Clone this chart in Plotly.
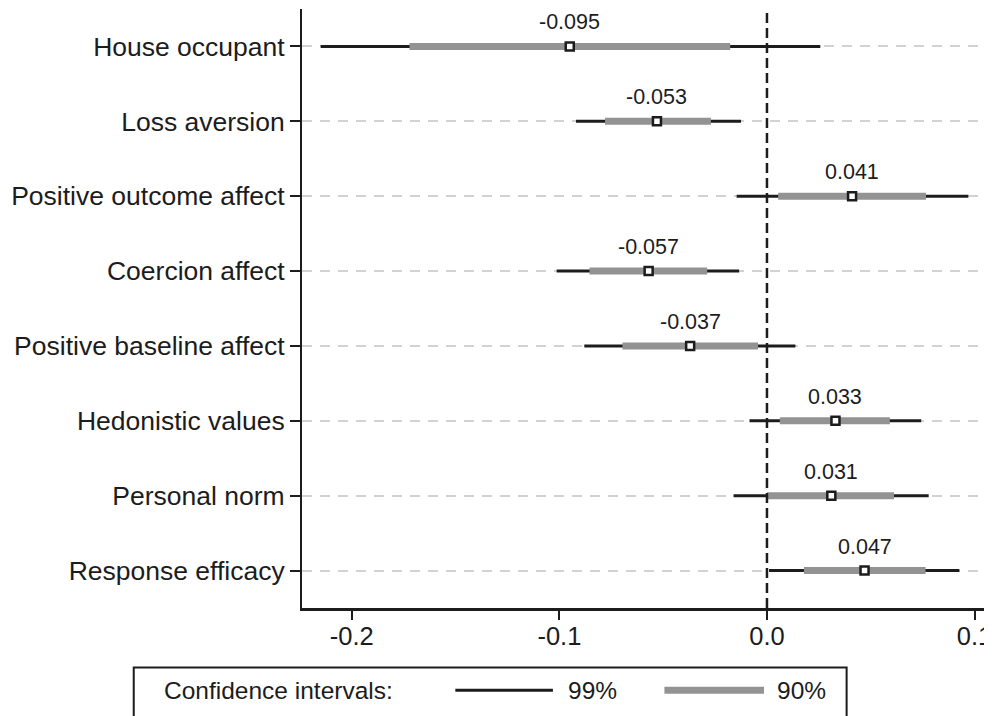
import plotly.graph_objects as go

# ---- data ----
categories = ["House occupant", "Loss aversion", "Positive outcome affect", "Coercion affect",
              "Positive baseline affect", "Hedonistic values", "Personal norm", "Response efficacy"]
estimate = [-0.095, -0.053, 0.041, -0.057, -0.037, 0.033, 0.031, 0.047]
ci99_low = [-0.215, -0.092, -0.0146, -0.1013, -0.088, -0.0084, -0.0161, 0.001]
ci99_high = [0.0257, -0.0125, 0.097, -0.0134, 0.0137, 0.0743, 0.0779, 0.0927]
ci90_low = [-0.1722, -0.078, 0.0054, -0.0855, -0.0696, 0.0062, 0.0, 0.0178]
ci90_high = [-0.0177, -0.027, 0.0766, -0.0288, -0.0043, 0.0592, 0.0612, 0.0764]
xtick_vals = [-0.2, -0.1, 0.0, 0.1]
xtick_text = ["-0.2", "-0.1", "0.0", "0.1"]
legend_title = "Confidence intervals:"
legend_labels = ["99%", "90%"]

FONT = "Liberation Sans, Arial, Helvetica, sans-serif"
BLACK = "#1c1c1c"
GRAY = "#939393"

OFF = 8  # page body margin
W, H = 992 - OFF, 716 - OFF
# plot area in page pixels
PL, PR, PT, PB = 302, 992, 8.5, 608.5
L, R, T, B = PL - OFF, PR - OFF, PT - OFF, PB - OFF


def px_x(px):
    return (px - OFF - L) / (R - L)


def px_y(py):
    return (B - (py - OFF)) / (B - T)


def segs(lo, hi, cats):
    xs, ys = [], []
    for a, b, c in zip(lo, hi, cats):
        xs += [a, b, None]
        ys += [c, c, None]
    return xs, ys


fig = go.Figure()

x99, y99 = segs(ci99_low, ci99_high, categories)
fig.add_trace(go.Scatter(x=x99, y=y99, mode="lines", line=dict(color=BLACK, width=3),
                         showlegend=False, hoverinfo="skip"))
x90, y90 = segs(ci90_low, ci90_high, categories)
fig.add_trace(go.Scatter(x=x90, y=y90, mode="lines", line=dict(color=GRAY, width=7),
                         showlegend=False, hoverinfo="skip"))
fig.add_trace(go.Scatter(x=estimate, y=categories, mode="markers",
                         marker=dict(symbol="square", size=8, color="white",
                                     line=dict(color=BLACK, width=2.5)),
                         showlegend=False))

for v, c in zip(estimate, categories):
    fig.add_annotation(x=v, y=c, text=f"{v:.3f}", showarrow=False, yshift=24,
                       font=dict(family=FONT, size=21.5, color=BLACK))

# zero reference line
fig.add_shape(type="line", x0=0, x1=0, xref="x", y0=0, y1=1, yref="paper",
              line=dict(color=BLACK, width=2.5, dash="10px,5px"), layer="above")

# custom legend
fig.add_shape(type="rect", xref="paper", yref="paper",
              x0=px_x(133), x1=px_x(849), y0=px_y(668), y1=px_y(740),
              line=dict(color=BLACK, width=2), fillcolor="white", layer="above")
ly = px_y(691)
fig.add_annotation(xref="paper", yref="paper", x=px_x(161), y=ly, xanchor="left", yanchor="middle",
                   text=legend_title, showarrow=False, font=dict(family=FONT, size=24.5, color=BLACK))
fig.add_shape(type="line", xref="paper", yref="paper", x0=px_x(456), x1=px_x(554), y0=ly, y1=ly,
              line=dict(color=BLACK, width=3))
fig.add_annotation(xref="paper", yref="paper", x=px_x(567), y=ly, xanchor="left", yanchor="middle",
                   text=legend_labels[0], showarrow=False, font=dict(family=FONT, size=24.5, color=BLACK))
fig.add_shape(type="line", xref="paper", yref="paper", x0=px_x(666), x1=px_x(766), y0=ly, y1=ly,
              line=dict(color=GRAY, width=7))
fig.add_annotation(xref="paper", yref="paper", x=px_x(777), y=ly, xanchor="left", yanchor="middle",
                   text=legend_labels[1], showarrow=False, font=dict(family=FONT, size=24.5, color=BLACK))

x_left = (PL - 769) / 2085
x_right = (PR - 769) / 2085

fig.update_layout(
    width=W, height=H,
    margin=dict(l=L, r=W - R, t=T, b=H - B, pad=0),
    paper_bgcolor="white", plot_bgcolor="white",
    showlegend=False,
    font=dict(family=FONT, color=BLACK),
    xaxis=dict(range=[x_left, x_right], tickvals=xtick_vals, ticktext=xtick_text,
               showgrid=False, zeroline=False, showline=True, linecolor=BLACK, linewidth=2.5,
               ticks="outside", ticklen=9, tickwidth=2, tickcolor=BLACK,
               ticklabeloverflow="allow", ticklabelstandoff=-5,
               tickfont=dict(family=FONT, size=25.5, color=BLACK)),
    yaxis=dict(type="category", categoryorder="array", categoryarray=categories,
               range=[len(categories) - 0.5, -0.5],
               showgrid=True, gridcolor="#d2d2d2", gridwidth=2, griddash="10px,8px",
               zeroline=False, showline=True, linecolor=BLACK, linewidth=2,
               ticks="outside", ticklen=10, tickwidth=2, tickcolor=BLACK,
               tickfont=dict(family=FONT, size=26.5, color=BLACK)),
)

fig.write_html("out.html")
